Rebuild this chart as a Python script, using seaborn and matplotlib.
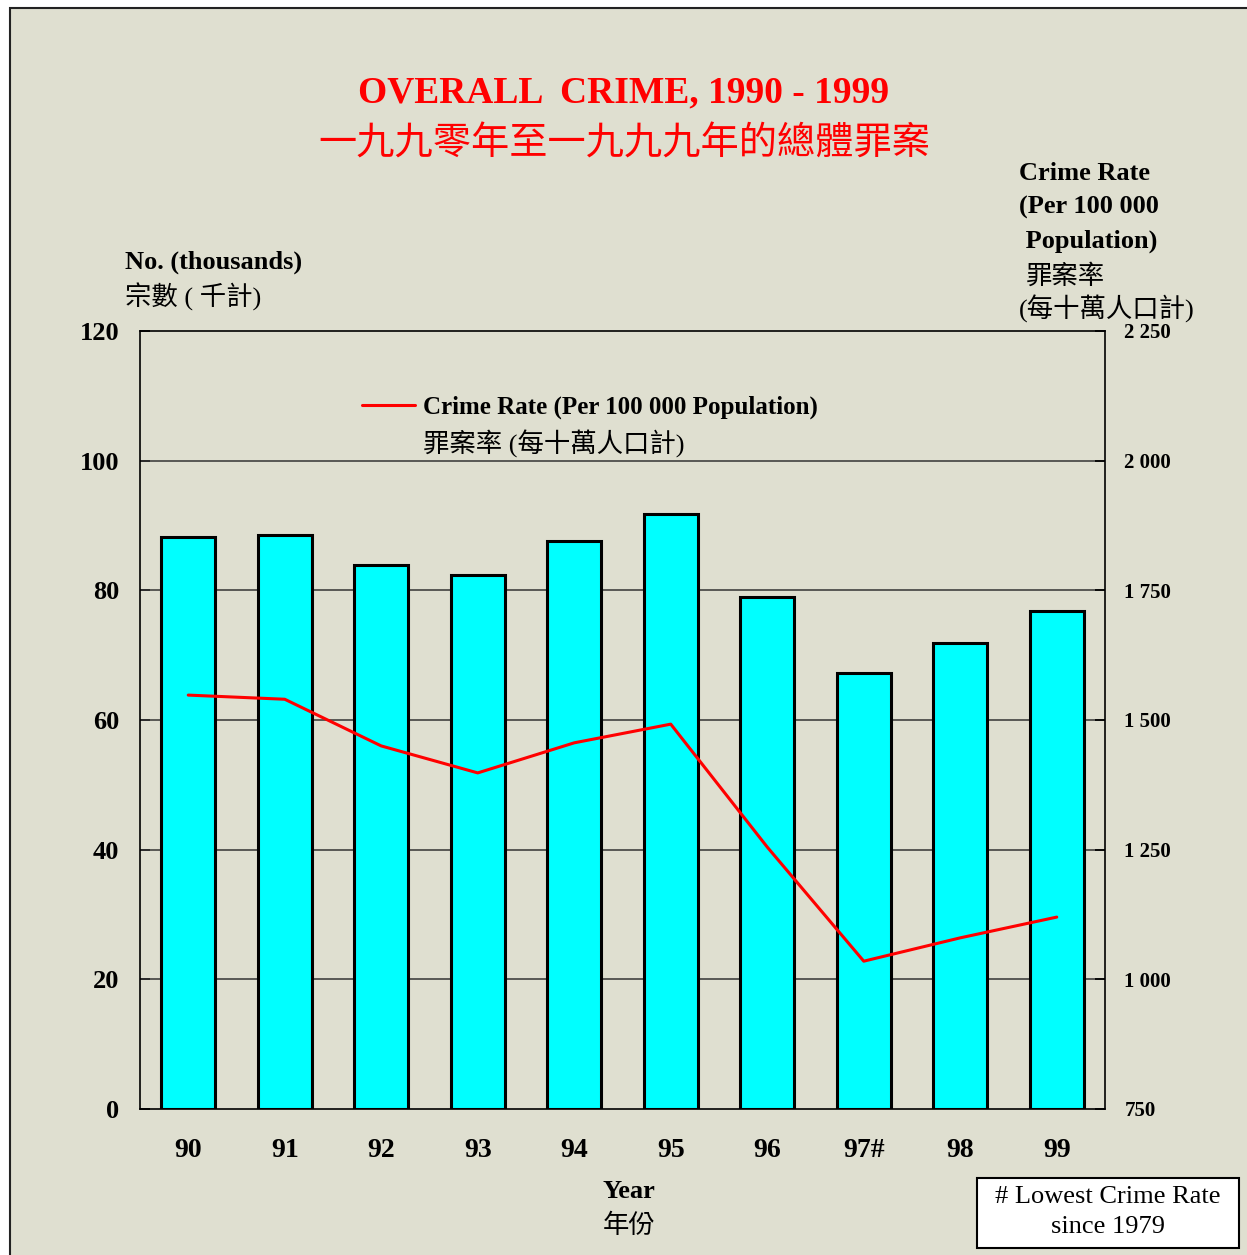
import matplotlib
matplotlib.use("Agg")
import matplotlib.pyplot as plt
from matplotlib.patches import Rectangle
from matplotlib.lines import Line2D
from matplotlib.ticker import FixedLocator
import numpy as np
import pandas as pd
import seaborn as sns

# ---------------- data ----------------
years = ["90", "91", "92", "93", "94", "95", "96", "97#", "98", "99"]
crimes_thousands = [88.2, 88.5, 83.9, 82.4, 87.6, 91.8, 79.0, 67.3, 71.9, 76.8]
crime_rate = [1548, 1540, 1450, 1398, 1456, 1492, 1255, 1035, 1080, 1120]
left_ticks = [0, 20, 40, 60, 80, 100, 120]
right_ticks = [750, 1000, 1250, 1500, 1750, 2000, 2250]
right_tick_labels = ["750", "1 000", "1 250", "1 500", "1 750", "2 000", "2 250"]

W, H = 1247, 1255
BG = "#DFDFD0"
SERIF = ["Liberation Serif", "Noto Sans CJK TC", "DejaVu Sans"]

sns.set_theme(style="white")
plt.rcParams["font.family"] = SERIF
plt.rcParams["text.color"] = "black"
plt.rcParams["xtick.color"] = "black"
plt.rcParams["ytick.color"] = "black"
plt.rcParams["axes.labelcolor"] = "black"

fig = plt.figure(figsize=(W / 100, H / 100), dpi=100)
fig.patch.set_facecolor("white")

def fx(px):
    return px / W

def fy(py):
    return 1 - py / H

# outer panel
fig.patches.append(Rectangle((fx(10), fy(1262)), fx(1245), (1262 - 8) / H,
                             transform=fig.transFigure, facecolor=BG,
                             edgecolor="#222222", lw=1.5, zorder=-10))

ax = fig.add_axes([fx(140), fy(1109), fx(1105) - fx(140), (1109 - 331) / H])
ax.set_facecolor(BG)

df = pd.DataFrame({"year": years, "crimes": crimes_thousands, "rate": crime_rate})

sns.barplot(data=df, x="year", y="crimes", ax=ax, color="#00FFFF",
            saturation=1, width=0.56, edgecolor="black", linewidth=2.2, zorder=3)

ax.set_xlim(-0.5, 9.5)
ax.set_ylim(0, 120)
ax.set_yticks(left_ticks)
ax.set_yticklabels([str(t) for t in left_ticks], fontweight="bold", fontsize=19)
for yv in left_ticks[1:-1]:
    ax.axhline(yv, color="#333333", lw=1.1, zorder=1)
ax.set_xlabel("")
ax.set_ylabel("")
ax.set_xticks(range(len(years)))
ax.set_xticklabels(years, fontweight="bold", fontsize=20)
ax.xaxis.set_minor_locator(FixedLocator(np.arange(0.5, 9.5, 1.0)))
ax.tick_params(axis="x", which="major", length=0, pad=21)
ax.tick_params(axis="x", which="minor", direction="in", length=7, color="#333333", width=1)
ax.tick_params(axis="y", which="major", direction="in", length=7, pad=15, color="black")
for s in ax.spines.values():
    s.set_color("black")
    s.set_linewidth(1.2)
    s.set_visible(True)

ax2 = ax.twinx()
sns.lineplot(x=np.arange(len(years)), y=crime_rate, ax=ax2, color="#FF0000",
             lw=2.2, legend=False)
ax2.set_ylim(750, 2250)
ax2.set_yticks(right_ticks)
ax2.set_yticklabels(right_tick_labels, fontweight="bold", fontsize=15)
ax2.tick_params(axis="y", direction="in", length=7, pad=14, color="black")
ax2.set_ylabel("")
for s in ax2.spines.values():
    s.set_visible(False)

handles = [Line2D([], [], color="#FF0000", lw=2.2),
           Line2D([], [], color="none", lw=0)]
labels = ["Crime Rate (Per 100 000 Population)", "罪案率 (每十萬人口計)"]
leg = ax2.legend(handles, labels, loc="upper left",
                 bbox_to_anchor=((362 - 140) / 965, (1109 - 396) / 778),
                 frameon=False, handlelength=2.1, handletextpad=0.35,
                 borderpad=0, borderaxespad=0, labelspacing=0.42,
                 prop={"family": SERIF, "weight": "bold", "size": 18})
for t in leg.get_texts():
    t.set_color("black")
leg.get_texts()[1].set_fontweight("normal")
leg.get_texts()[1].set_fontsize(19)

# titles
fig.text(fx(624), fy(93), "OVERALL  CRIME, 1990 - 1999", color="#FF0000",
         fontsize=27, fontweight="bold", ha="center", va="center", family=SERIF)
fig.text(fx(624), fy(144), "一九九零年至一九九九年的總體罪案", color="#FF0000",
         fontsize=27.5, fontweight="medium", ha="center", va="center",
         family=["Noto Sans CJK TC", "DejaVu Sans"])

# axis titles
fig.text(fx(125), fy(262), "No. (thousands)", fontsize=19, fontweight="bold",
         ha="left", va="center", family=SERIF)
fig.text(fx(125), fy(297), "宗數 ( 千計)", fontsize=19,
         ha="left", va="center", family=SERIF)

right_lines = [("Crime Rate", 1019, 173, "bold"), ("(Per 100 000", 1019, 207, "bold"),
               (" Population)", 1019, 241, "bold"), ("罪案率", 1026, 276, "normal"),
               ("(每十萬人口計)", 1019, 309, "normal")]
for txt, x, y, w in right_lines:
    fig.text(fx(x), fy(y), txt, fontsize=19, fontweight=w,
             ha="left", va="center", family=SERIF)

fig.text(fx(629), fy(1191), "Year", fontsize=19, fontweight="bold",
         ha="center", va="center", family=SERIF)
fig.text(fx(629), fy(1226), "年份", fontsize=19,
         ha="center", va="center", family=SERIF)

# footnote box
fig.patches.append(Rectangle((fx(977), fy(1248)), fx(1239) - fx(977), (1248 - 1178) / H,
                             transform=fig.transFigure, facecolor="white",
                             edgecolor="black", lw=1.5, zorder=5))
fig.text(fx(1108), fy(1212), "# Lowest Crime Rate\nsince 1979", fontsize=19,
         ha="center", va="center", family=SERIF, linespacing=1.45, zorder=6)

fig.savefig("out.png", dpi=100, facecolor="white")
